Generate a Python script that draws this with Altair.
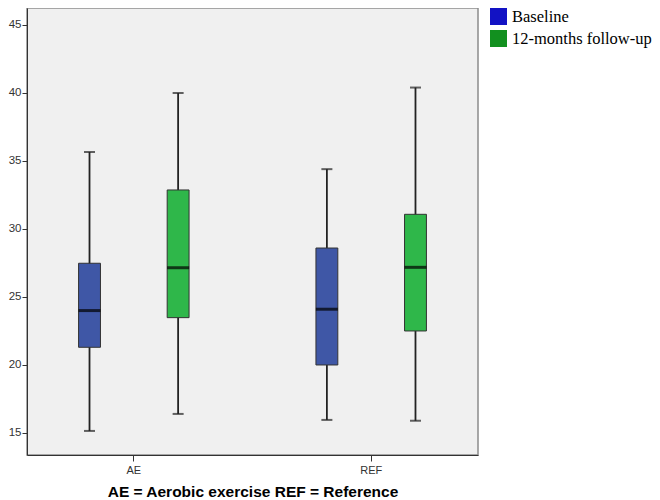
import altair as alt
import pandas as pd

groups = ["AE", "AE", "REF", "REF"]
times = ["Baseline", "12-months follow-up", "Baseline", "12-months follow-up"]
mins = [15.15, 16.4, 15.96, 15.9]
q1s = [21.3, 23.48, 20.0, 22.5]
meds = [24.0, 27.15, 24.1, 27.18]
q3s = [27.48, 32.87, 28.6, 31.08]
maxs = [35.66, 40.0, 34.4, 40.4]

time_order = ["Baseline", "12-months follow-up"]
box_colors = ["#3f57a6", "#2fb74a"]
legend_colors = ["#1212c4", "#12901f"]

df = pd.DataFrame({"group": groups, "time": times, "min": mins, "q1": q1s,
                   "med": meds, "q3": q3s, "max": maxs})

x = alt.X("group:N", title="AE = Aerobic exercise REF = Reference",
          scale=alt.Scale(paddingInner=0.1, paddingOuter=0),
          axis=alt.Axis(labelAngle=0, labelFont="Liberation Sans", labelFontSize=11,
                        labelColor="#333333", tickSize=6, tickColor="#333333",
                        domainColor="#333333", labelPadding=3,
                        titleFont="Liberation Sans", titleFontSize=15.5,
                        titleFontWeight="bold", titleColor="#000000", titlePadding=9))
xo = alt.XOffset("time:N", sort=time_order,
                 scale=alt.Scale(paddingInner=0.753, paddingOuter=0.582))
yscale = alt.Scale(domain=[13.38, 46.25], nice=False, zero=False)
yaxis = alt.Axis(values=[15, 20, 25, 30, 35, 40, 45], grid=False, title=None,
                 labelFont="Liberation Sans", labelFontSize=11.5, labelColor="#333333",
                 tickSize=5, tickColor="#333333", domainColor="#333333", labelPadding=1)

base = alt.Chart(df)

legend_layer = base.transform_calculate(phase="datum.time").mark_square(size=4).encode(
    x=x, xOffset=xo, y=alt.Y("med:Q", scale=yscale, axis=yaxis),
    color=alt.Color("phase:N", sort=time_order,
                    scale=alt.Scale(domain=time_order, range=legend_colors),
                    legend=alt.Legend(title=None, orient="right", offset=12,
                                      symbolType="square", symbolSize=289,
                                      symbolStrokeWidth=0, symbolOpacity=1,
                                      labelFont="Liberation Serif", labelFontSize=16.5,
                                      labelColor="#000000", labelOffset=5,
                                      rowPadding=5, labelLimit=300, padding=0)))

whisk = base.mark_rule(color="#222222", strokeWidth=1.8).encode(
    x=x, xOffset=xo, y=alt.Y("min:Q", scale=yscale), y2="max:Q")

caps_lo = base.mark_tick(color="#222222", size=11, thickness=2).encode(
    x=x, xOffset=xo, y=alt.Y("min:Q", scale=yscale))
caps_hi = base.mark_tick(color="#222222", size=11, thickness=2).encode(
    x=x, xOffset=xo, y=alt.Y("max:Q", scale=yscale))

boxes = base.mark_bar(stroke="#333333", strokeWidth=1).encode(
    x=x, xOffset=xo, y=alt.Y("q1:Q", scale=yscale), y2="q3:Q",
    fill=alt.Fill("time:N", sort=time_order,
                  scale=alt.Scale(domain=time_order, range=box_colors), legend=None))

median = base.mark_tick(color="#000000", size=22, thickness=3).encode(
    x=x, xOffset=xo, y=alt.Y("med:Q", scale=yscale))

chart = alt.layer(legend_layer, whisk, caps_lo, caps_hi, boxes, median).properties(
    width=451, height=447, background="white",
    padding={"left": 0, "top": 0, "right": 0, "bottom": 0}
).configure_view(fill="#f0f0f0", stroke="#8c8c8c", strokeWidth=1.5)

chart.save("out.html", embed_options={"renderer": "svg", "actions": False})
